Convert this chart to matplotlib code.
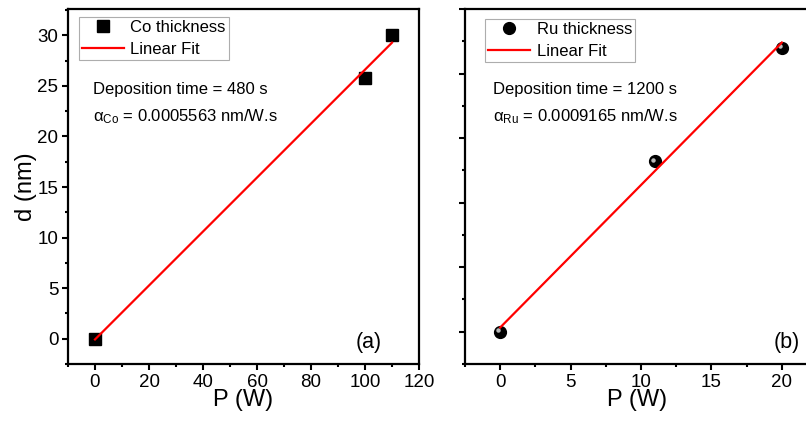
import numpy as np
import matplotlib.pyplot as plt
from matplotlib.ticker import MultipleLocator
from matplotlib import transforms

plt.rcParams['font.family'] = ['Liberation Sans', 'DejaVu Sans']
plt.rcParams['mathtext.fontset'] = 'custom'
plt.rcParams['mathtext.rm'] = 'Liberation Sans'
plt.rcParams['mathtext.it'] = 'Liberation Sans:italic'

# Co series (panel a)
co_power = [0, 100, 110]
co_thick = [0.0, 25.8, 30.0]
# Ru series (panel b)
ru_power = [0, 11, 20]
ru_thick = [0.0, 13.2, 22.0]

fig = plt.figure(figsize=(8.06, 4.23), dpi=100)
W, H = 806, 423
ax1 = fig.add_axes([68 / W, 1 - 364 / H, (419 - 68) / W, 355 / H])
ax2 = fig.add_axes([465 / W, 1 - 364 / H, (810 - 465) / W, 355 / H])

for ax in (ax1, ax2):
    for s in ax.spines.values():
        s.set_linewidth(1.6)
    ax.tick_params(which='major', direction='out', length=4, width=1.5, labelsize=13.5, pad=3)
    ax.tick_params(which='minor', direction='out', length=2.5, width=1.5)

# panel (a)
fit1 = np.polyfit(co_power, co_thick, 1)
xf1 = np.array([co_power[0], co_power[-1]])
ax1.plot(co_power, co_thick, 's', color='black', markersize=8, label='Co thickness', zorder=3)
ax1.plot(xf1, np.polyval(fit1, xf1), color='red', lw=1.6, label='Linear Fit', zorder=4)
ax1.set_xlim(-10, 120)
ax1.set_ylim(-2.5, 32.6)
ax1.xaxis.set_major_locator(MultipleLocator(20))
ax1.xaxis.set_minor_locator(MultipleLocator(10))
ax1.yaxis.set_major_locator(MultipleLocator(5))
ax1.yaxis.set_minor_locator(MultipleLocator(2.5))
ax1.set_xlabel('P (W)', fontsize=17, labelpad=-1)
ax1.set_ylabel('d (nm)', fontsize=17, labelpad=0)
leg1 = ax1.legend(loc='upper left', bbox_to_anchor=(0.03, 0.978), fontsize=12, frameon=True,
                  fancybox=False, edgecolor='#999999', handlelength=2.5, borderpad=0.2,
                  labelspacing=0.4, handletextpad=0.4, borderaxespad=0)
leg1.get_frame().set_linewidth(0.8)
ax1.text(0.072, 0.76, 'Deposition time = 480 s', transform=ax1.transAxes, fontsize=12)
ax1.text(0.072, 0.685, 'α$_{\\rm Co}$ = 0.0005563 nm/W.s', transform=ax1.transAxes, fontsize=12)
ax1.text(0.895, 0.045, '(a)', transform=ax1.transAxes, fontsize=15.5, ha='right')

# panel (b)
fit2 = np.polyfit(ru_power, ru_thick, 1)
xf2 = np.array([ru_power[0], ru_power[-1]])
ax2.plot(ru_power, ru_thick, 'o', color='black', markersize=8.5, label='Ru thickness', zorder=3)
shift = transforms.ScaledTranslation(-1.3 / 72, 1.3 / 72, fig.dpi_scale_trans)
ax2.plot(ru_power, ru_thick, 'o', color='#bbbbbb', markersize=2.2,
         transform=ax2.transData + shift, zorder=3.5)
ax2.plot(xf2, np.polyval(fit2, xf2), color='red', lw=1.6, label='Linear Fit', zorder=4)
ax2.set_xlim(-2.5, 22)
ax2.set_ylim(-2.5, 25)
ax2.xaxis.set_major_locator(MultipleLocator(5))
ax2.xaxis.set_minor_locator(MultipleLocator(2.5))
ax2.yaxis.set_major_locator(MultipleLocator(5))
ax2.yaxis.set_minor_locator(MultipleLocator(2.5))
ax2.tick_params(axis='y', labelleft=False)
ax2.set_xlabel('P (W)', fontsize=17, labelpad=-1)
leg2 = ax2.legend(loc='upper left', bbox_to_anchor=(0.058, 0.972), fontsize=12, frameon=True,
                  fancybox=False, edgecolor='#999999', handlelength=2.5, borderpad=0.2,
                  labelspacing=0.4, handletextpad=0.4, borderaxespad=0)
leg2.get_frame().set_linewidth(0.8)
ax2.text(0.08, 0.76, 'Deposition time = 1200 s', transform=ax2.transAxes, fontsize=12)
ax2.text(0.08, 0.685, 'α$_{\\rm Ru}$ = 0.0009165 nm/W.s', transform=ax2.transAxes, fontsize=12)
ax2.text(0.97, 0.045, '(b)', transform=ax2.transAxes, fontsize=15.5, ha='right')

fig.savefig('out.png', dpi=100)
